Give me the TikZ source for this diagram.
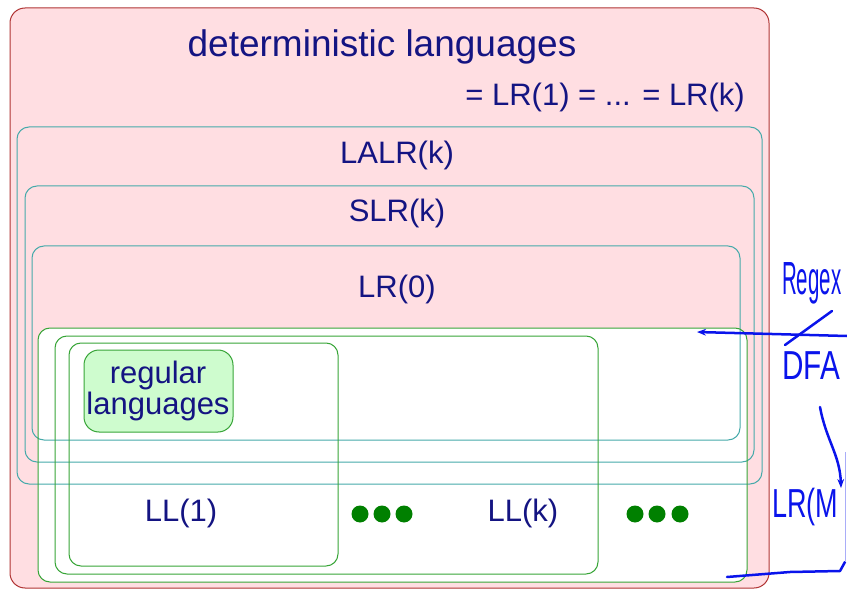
\documentclass[tikz,border=0pt]{standalone}
\usepackage{fontspec}
\setmainfont{Liberation Sans}
\usetikzlibrary{arrows.meta}

\definecolor{setpink}{RGB}{255,222,226}
\definecolor{setred}{RGB}{176,52,52}
\definecolor{setteal}{RGB}{70,170,170}
\definecolor{setgreen}{RGB}{56,165,56}
\definecolor{reggreen}{RGB}{206,252,206}
\definecolor{labelblue}{RGB}{20,20,130}
\definecolor{dotgreen}{RGB}{0,128,0}
\definecolor{penblue}{RGB}{10,20,235}

\tikzset{
  lrbox/.style={draw=setteal, line width=1pt, rounded corners=12pt},
  llbox/.style={draw=setgreen, line width=1pt, rounded corners=12pt},
  setlabel/.style={text=labelblue, inner sep=0pt, font=\fontsize{31}{31}\selectfont},
  titlelabel/.style={setlabel, font=\fontsize{37}{37}\selectfont},
  pen/.style={penblue, line width=2.5pt, line cap=round, line join=round},
  pentext/.style={text=penblue, inner sep=0pt, font=\fontsize{27}{27}\selectfont,
    yscale=1.5, transform shape},
}

\begin{document}
\begin{tikzpicture}[x=1pt, y=-1pt]
  \useasboundingbox (0,0) rectangle (847,591);
  % deterministic languages
  \draw[fill=setpink, draw=setred, line width=1pt, rounded corners=15pt] (10,8) rectangle (769,588);
  % LL area is left white
  \fill[white, rounded corners=12pt] (38,328) rectangle (747,582);
  % LR classes
  \draw[lrbox] (17,127) rectangle (762,484);
  \draw[lrbox] (25,186) rectangle (754,462);
  \draw[lrbox] (32,246) rectangle (740,440);
  % LL classes
  \draw[llbox] (38,328) rectangle (747,582);
  \draw[llbox] (55,336) rectangle (598,574);
  \draw[llbox] (69,343) rectangle (338,566);
  \draw[llbox, fill=reggreen, rounded corners=15pt] (84,350) rectangle (233,432);

  \node[titlelabel] (det) at (382,47) {deterministic languages};
  \node[setlabel, anchor=east] (lrk) at (745,97) {= LR(1) = ... = LR(k)};
  \node[setlabel] (lalr) at (397,155) {LALR(k)};
  \node[setlabel] (slr) at (397,213) {SLR(k)};
  \node[setlabel] (lrzero) at (397,289) {LR(0)};
  \node[setlabel, align=center] (reg) at (158,391) {regular\\languages};
  \node[setlabel] (llone) at (181,513) {LL(1)};
  \node[setlabel] (llk) at (523,513) {LL(k)};
  \foreach \x in {360,382,404,635,657,680}
    \fill[dotgreen] (\x,514) circle (8.5pt);

  % pen notes on the side
  \coordinate (regtip) at (697,332);
  \coordinate (regend) at (847,336);
  \coordinate (slasha) at (785,345);
  \coordinate (slashb) at (832,311);
  \coordinate (lrmfrom) at (820,407);
  \coordinate (lrmto) at (841,488);
  \node[pentext, anchor=west, xscale=0.66, font=\fontsize{31}{31}\selectfont] (regex) at (782,283) {Regex};
  \node[pentext, anchor=west, xscale=1.1] (dfa) at (782,366) {DFA};
  \node[pentext, anchor=west] (lrm) at (772,507) {LR(M};
  \draw[pen, {Stealth[length=9pt]}-] (regtip) -- (regend);
  \draw[pen] (slasha) -- (slashb);
  \draw[pen, -{Stealth[length=9pt]}] (lrmfrom) .. controls (826,440) and (840,455) .. (lrmto);
  \draw[pen] (727,577) -- (790,572) -- (840,571) -- (845,562);
  \draw[penblue!35, line width=1pt] (845,562) -- (845,452);
\end{tikzpicture}
\end{document}
